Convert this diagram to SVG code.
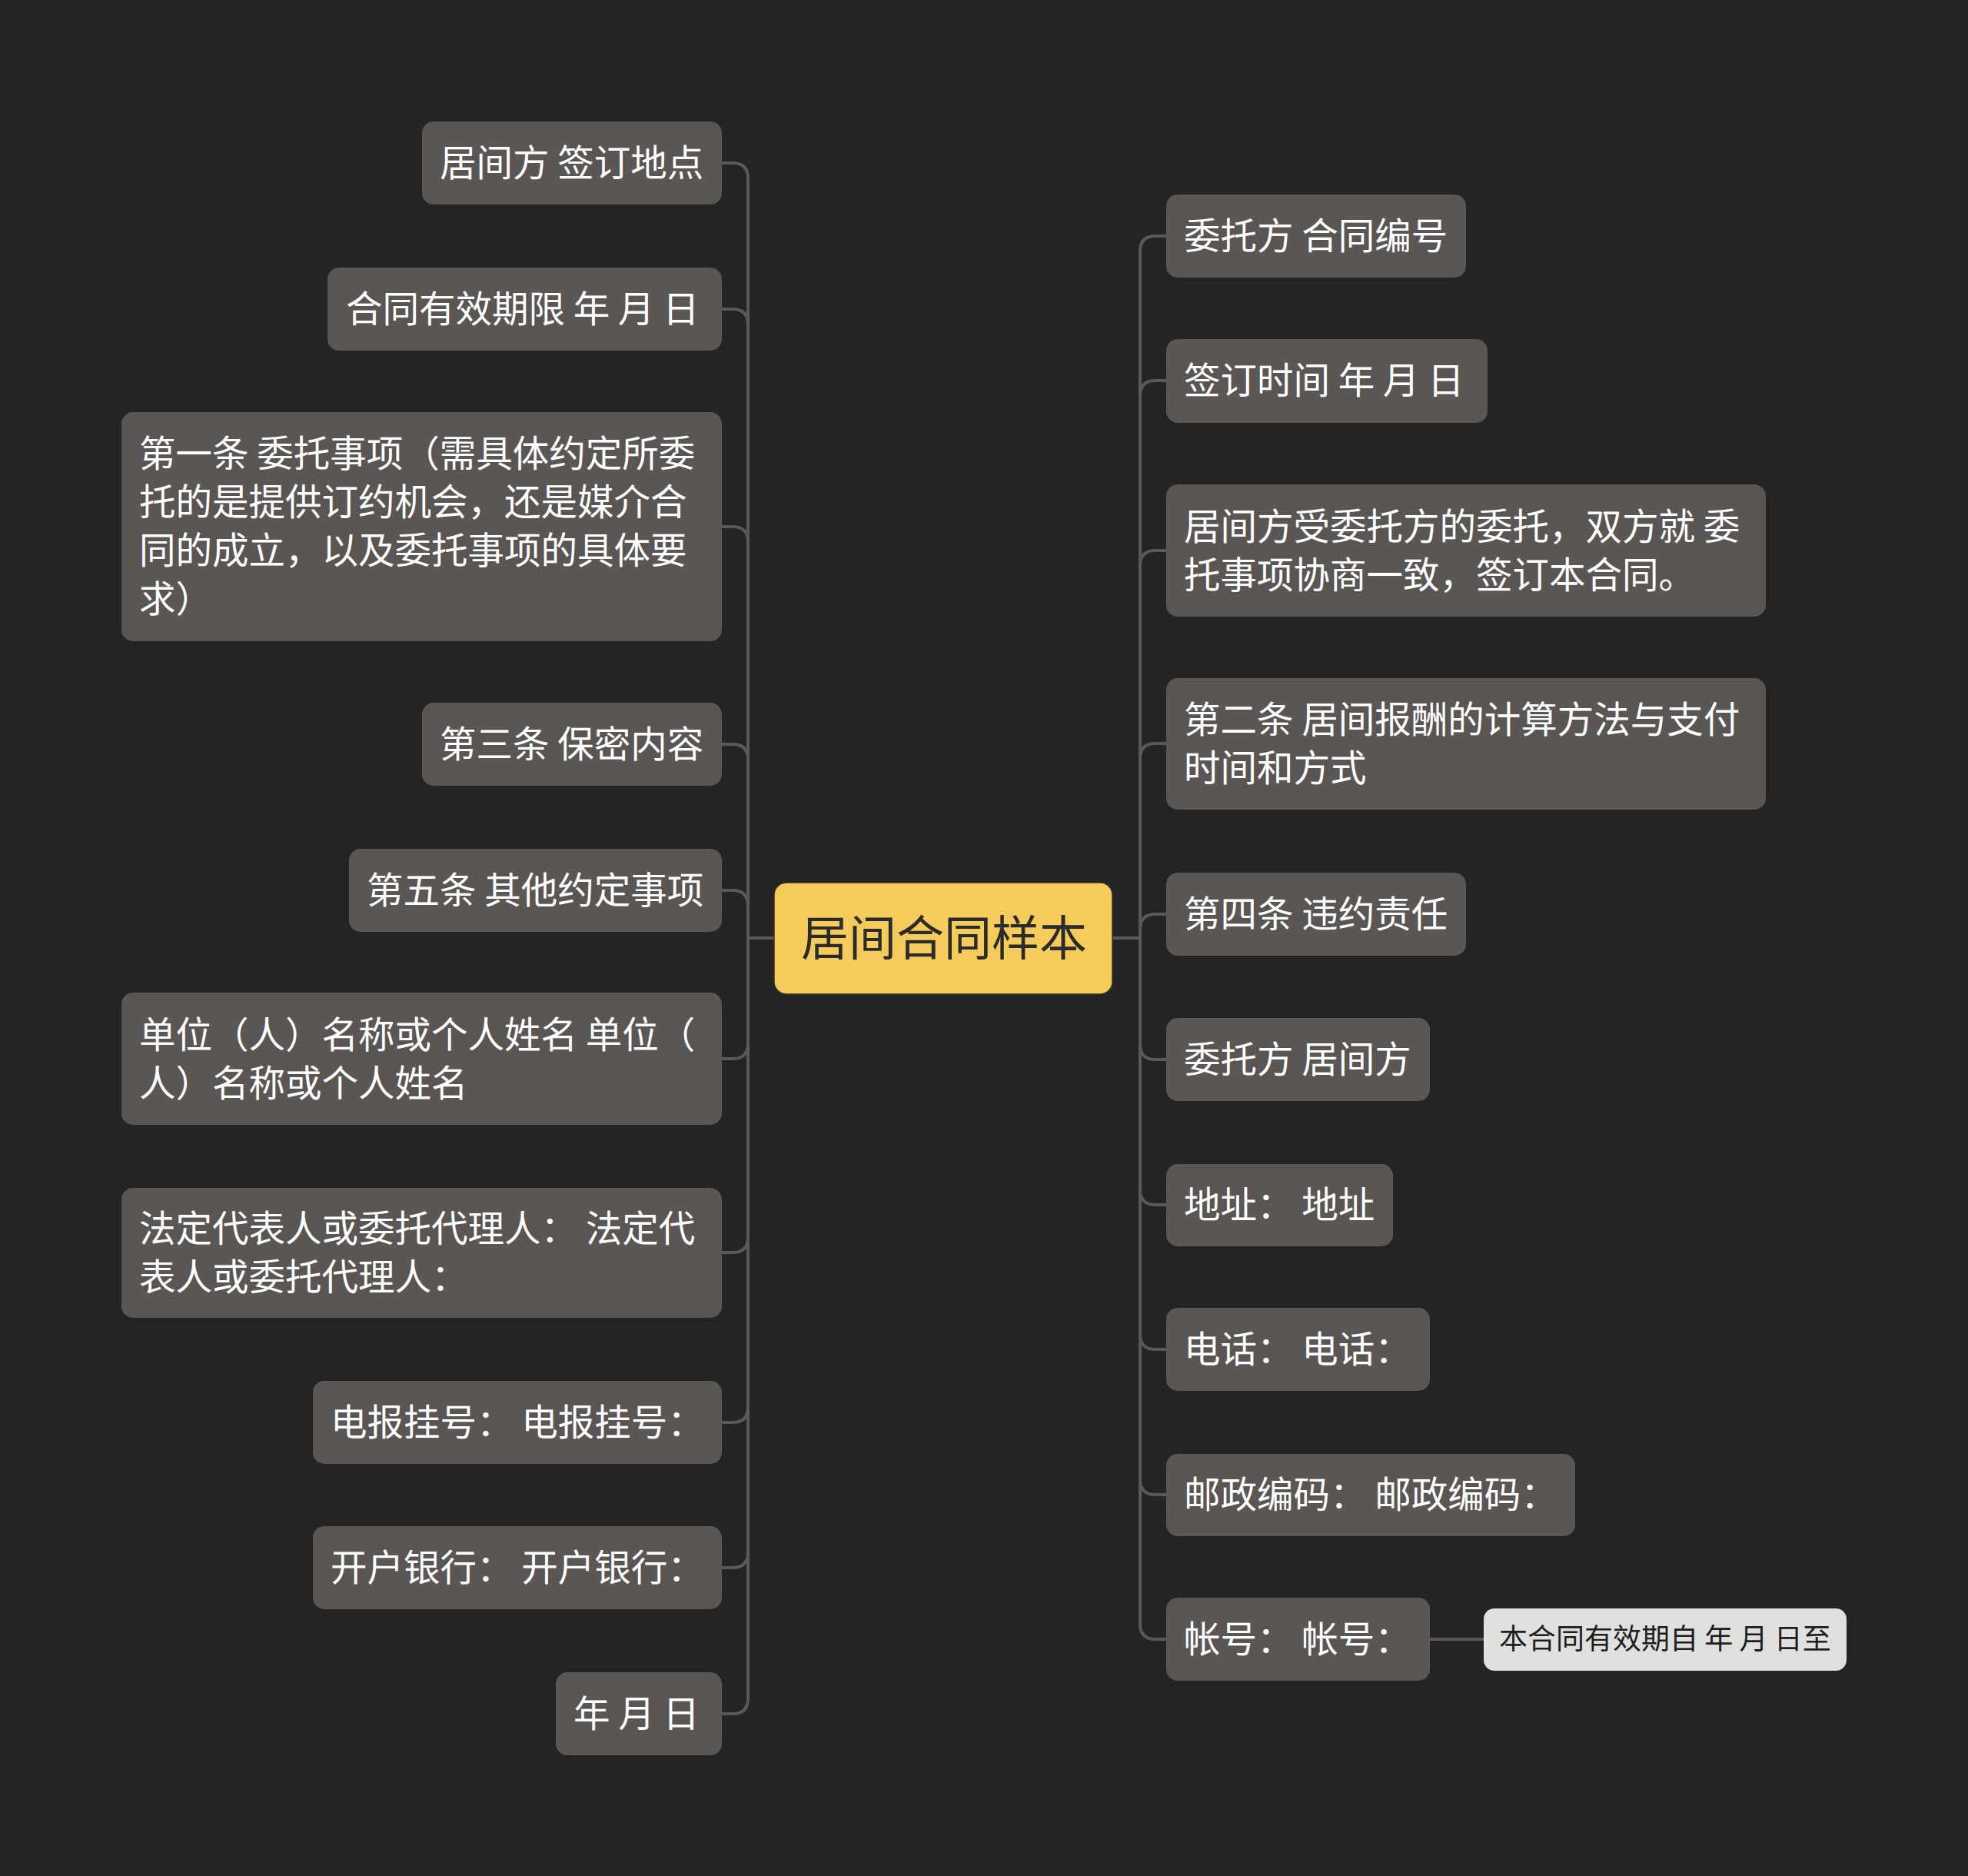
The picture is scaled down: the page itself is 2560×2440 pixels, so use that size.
<svg xmlns="http://www.w3.org/2000/svg" width="2560" height="2440" viewBox="0 0 2560 2440">
<style>
.bg{fill:#242424}
.n{fill:#5a5653}
.t{font-family:"Noto Sans CJK SC","Noto Sans",sans-serif;font-size:47.5px;fill:#ffffff}
.c{fill:#f5cb5c;stroke:#3a3320;stroke-width:1.5}
.ct{font-family:"Noto Sans CJK SC","Noto Sans",sans-serif;font-size:62px;fill:#2b2b2b;text-anchor:middle}
.s{fill:#e0e0df}
.st{font-family:"Noto Sans CJK SC","Noto Sans",sans-serif;font-size:37px;fill:#1e1e1e}
.l{fill:none;stroke:#5b5856;stroke-width:4}
</style>
<rect class="bg" x="0" y="0" width="2560" height="2440"/>
<g id="connectors">
<path class="l" d="M1007,1220 H973"/>
<path class="l" d="M1447,1220 H1483"/>
<path class="l" d="M973,1220 V232 Q973,212 953,212 H939"/>
<path class="l" d="M973,1220 V422 Q973,402 953,402 H939"/>
<path class="l" d="M973,1220 V705 Q973,685 953,685 H939"/>
<path class="l" d="M973,1220 V988 Q973,968 953,968 H939"/>
<path class="l" d="M973,1220 V1178 Q973,1158 953,1158 H939"/>
<path class="l" d="M973,1220 V1357 Q973,1377 953,1377 H939"/>
<path class="l" d="M973,1220 V1609 Q973,1629 953,1629 H939"/>
<path class="l" d="M973,1220 V1830 Q973,1850 953,1850 H939"/>
<path class="l" d="M973,1220 V2019 Q973,2039 953,2039 H939"/>
<path class="l" d="M973,1220 V2209 Q973,2229 953,2229 H939"/>
<path class="l" d="M1483,1220 V327 Q1483,307 1503,307 H1517"/>
<path class="l" d="M1483,1220 V515 Q1483,495 1503,495 H1517"/>
<path class="l" d="M1483,1220 V736 Q1483,716 1503,716 H1517"/>
<path class="l" d="M1483,1220 V987 Q1483,967 1503,967 H1517"/>
<path class="l" d="M1483,1220 V1209 Q1483,1189 1503,1189 H1517"/>
<path class="l" d="M1483,1220 V1358 Q1483,1378 1503,1378 H1517"/>
<path class="l" d="M1483,1220 V1547 Q1483,1567 1503,1567 H1517"/>
<path class="l" d="M1483,1220 V1735 Q1483,1755 1503,1755 H1517"/>
<path class="l" d="M1483,1220 V1924 Q1483,1944 1503,1944 H1517"/>
<path class="l" d="M1483,1220 V2112 Q1483,2132 1503,2132 H1517"/>
<path class="l" d="M1860,2132 H1930"/>
</g>
<g id="center">
<rect class="c" x="1007" y="1148" width="440" height="145" rx="16"/>
<text class="ct" x="1228" y="1243">居间合同样本</text>
</g>
<g id="L1"><rect class="n" x="549" y="158" width="390" height="108" rx="15"/><text class="t" x="572" y="229">居间方 签订地点</text></g>
<g id="L2"><rect class="n" x="426" y="348" width="513" height="108" rx="15"/><text class="t" x="450" y="419">合同有效期限 年 月 日</text></g>
<g id="L3"><rect class="n" x="158" y="536" width="781" height="298" rx="15"/><text class="t"><tspan x="181" y="607">第一条 委托事项（需具体约定所委</tspan><tspan x="181" y="670">托的是提供订约机会，还是媒介合</tspan><tspan x="181" y="733">同的成立，以及委托事项的具体要</tspan><tspan x="181" y="796">求）</tspan></text></g>
<g id="L4"><rect class="n" x="549" y="914" width="390" height="108" rx="15"/><text class="t" x="572" y="985">第三条 保密内容</text></g>
<g id="L5"><rect class="n" x="454" y="1104" width="485" height="108" rx="15"/><text class="t" x="477" y="1175">第五条 其他约定事项</text></g>
<g id="L6"><rect class="n" x="158" y="1291" width="781" height="172" rx="15"/><text class="t"><tspan x="181" y="1363">单位（人）名称或个人姓名 单位（</tspan><tspan x="181" y="1426">人）名称或个人姓名</tspan></text></g>
<g id="L7"><rect class="n" x="158" y="1545" width="781" height="169" rx="15"/><text class="t"><tspan x="181" y="1615">法定代表人或委托代理人： 法定代</tspan><tspan x="181" y="1678">表人或委托代理人：</tspan></text></g>
<g id="L8"><rect class="n" x="407" y="1796" width="532" height="108" rx="15"/><text class="t" x="430" y="1867">电报挂号： 电报挂号：</text></g>
<g id="L9"><rect class="n" x="407" y="1985" width="532" height="108" rx="15"/><text class="t" x="430" y="2056">开户银行： 开户银行：</text></g>
<g id="L10"><rect class="n" x="723" y="2175" width="216" height="108" rx="15"/><text class="t" x="746" y="2246">年 月 日</text></g>
<g id="R1"><rect class="n" x="1517" y="253" width="390" height="108" rx="15"/><text class="t" x="1540" y="324">委托方 合同编号</text></g>
<g id="R2"><rect class="n" x="1517" y="441" width="418" height="109" rx="15"/><text class="t" x="1540" y="512">签订时间 年 月 日</text></g>
<g id="R3"><rect class="n" x="1517" y="630" width="780" height="172" rx="15"/><text class="t"><tspan x="1540" y="702">居间方受委托方的委托，双方就 委</tspan><tspan x="1540" y="765">托事项协商一致，签订本合同。</tspan></text></g>
<g id="R4"><rect class="n" x="1517" y="882" width="780" height="171" rx="15"/><text class="t"><tspan x="1540" y="953">第二条 居间报酬的计算方法与支付</tspan><tspan x="1540" y="1016">时间和方式</tspan></text></g>
<g id="R5"><rect class="n" x="1517" y="1135" width="390" height="108" rx="15"/><text class="t" x="1540" y="1206">第四条 违约责任</text></g>
<g id="R6"><rect class="n" x="1517" y="1324" width="343" height="108" rx="15"/><text class="t" x="1540" y="1395">委托方 居间方</text></g>
<g id="R7"><rect class="n" x="1517" y="1514" width="295" height="107" rx="15"/><text class="t" x="1540" y="1584">地址： 地址</text></g>
<g id="R8"><rect class="n" x="1517" y="1701" width="343" height="108" rx="15"/><text class="t" x="1540" y="1772">电话： 电话：</text></g>
<g id="R9"><rect class="n" x="1517" y="1891" width="532" height="107" rx="15"/><text class="t" x="1540" y="1961">邮政编码： 邮政编码：</text></g>
<g id="R10"><rect class="n" x="1517" y="2078" width="343" height="108" rx="15"/><text class="t" x="1540" y="2149">帐号： 帐号：</text></g>
<g id="R10a"><rect class="s" x="1930" y="2092" width="472" height="81" rx="14"/><text class="st" x="1950" y="2145">本合同有效期自 年 月 日至</text></g>
</svg>
